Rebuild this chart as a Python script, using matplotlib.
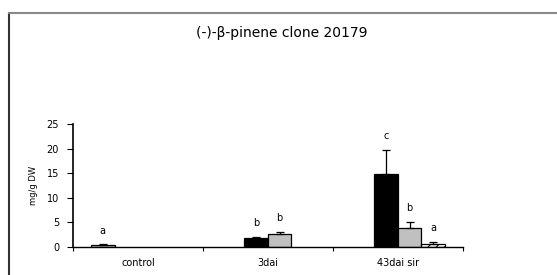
import numpy as np
import matplotlib
matplotlib.use("Agg")
import matplotlib.pyplot as plt
from matplotlib.lines import Line2D

groups = ["control", "3dai", "43dai sir"]
# four series per group, nan where the series is absent
s1 = [0.4, np.nan, np.nan]
s2 = [np.nan, 1.9, 14.9]
s3 = [np.nan, 2.7, 3.8]
s4 = [np.nan, np.nan, 0.7]
e1 = [0.1, 0, 0]
e2 = [0, 0.15, 4.8]
e3 = [0, 0.35, 1.3]
e4 = [0, 0, 0.3]
letters = [["a", "", ""], ["", "b", "c"], ["", "b", "b"], ["", "", "a"]]

series = [s1, s2, s3, s4]
errs = [e1, e2, e3, e4]
faces = ["#c0c0c0", "black", "#c0c0c0", "white"]
hatches = [None, None, None, "////"]

plt.rcParams["font.family"] = "DejaVu Sans"
plt.rcParams["hatch.linewidth"] = 0.8

fig = plt.figure(figsize=(5.57, 2.75), dpi=100)
ax = fig.add_axes([0.131, 0.102, 0.70, 0.447])

n = 4
w = 1.0 / (n + 1.55)
x = np.arange(len(groups))
start = x + 0.5 - (n * w) / 2
for i in range(n):
    xs = start + w * (i + 0.5)
    vals = np.array(series[i], dtype=float)
    ax.bar(xs, vals, width=w, color=faces[i], edgecolor="black",
           linewidth=0.9, hatch=hatches[i], zorder=2)
    for j in range(len(groups)):
        if np.isnan(vals[j]):
            continue
        if errs[i][j] > 0:
            ax.errorbar(xs[j], vals[j], yerr=[[0], [errs[i][j]]], fmt="none",
                        ecolor="black", elinewidth=0.9, capsize=3, capthick=0.9,
                        zorder=3)
        if letters[i][j]:
            ax.text(xs[j], vals[j] + errs[i][j] + 2.8, letters[i][j],
                    ha="center", va="center", fontsize=7)

ax.set_xlim(0, 3)
ax.set_ylim(0, 25)
ax.set_yticks([0, 5, 10, 15, 20, 25])
ax.set_xticks([0, 1, 2, 3])
ax.set_xticklabels([])
ax.set_xticks(x + 0.5, minor=True)
ax.set_xticklabels(groups, minor=True)
ax.tick_params(axis="x", which="minor", length=0, labelsize=7, pad=8)
ax.tick_params(axis="x", which="major", length=3, direction="out")
ax.tick_params(axis="y", labelsize=7, length=4, pad=6, direction="out")
ax.spines["top"].set_visible(False)
ax.spines["right"].set_visible(False)
ax.spines["left"].set_linewidth(1.2)
ax.spines["bottom"].set_linewidth(1.0)
ax.set_ylabel("mg/g DW", fontsize=6, labelpad=6)

fig.text(0.506, 0.88, "(-)-\u03b2-pinene clone 20179", ha="center",
         va="center", fontsize=10)

# chart border (left and top visible)
fig.add_artist(Line2D([0.017, 0.017], [0, 0.953], color="#333333", lw=1.5,
                      transform=fig.transFigure))
fig.add_artist(Line2D([0.016, 1], [0.953, 0.953], color="#888888", lw=1.5,
                      transform=fig.transFigure))

fig.savefig("out.png", dpi=100)
